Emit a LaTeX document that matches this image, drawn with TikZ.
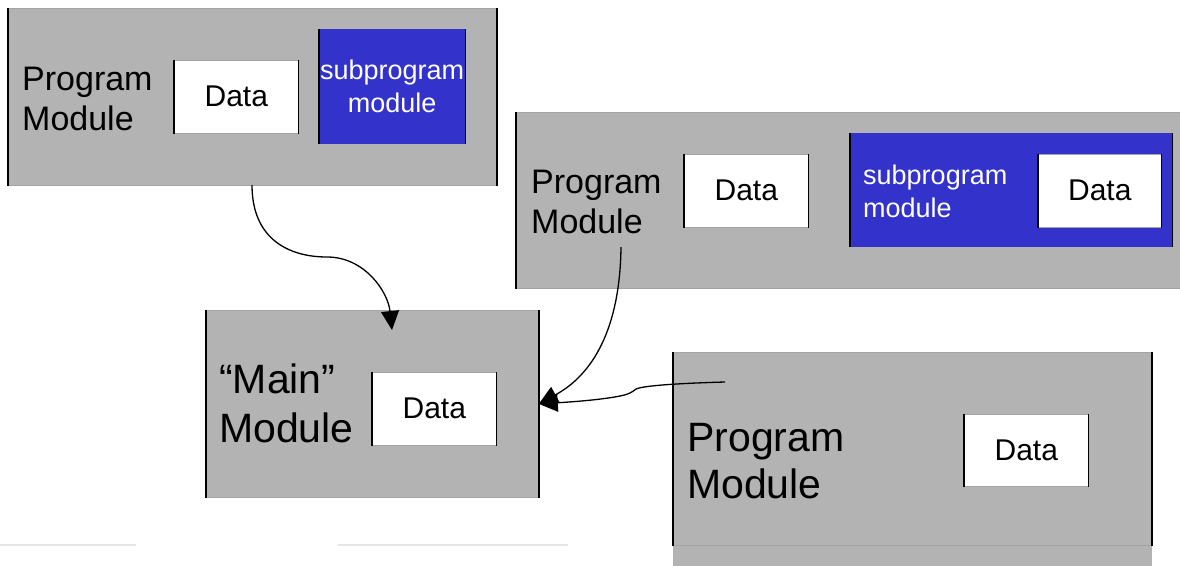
\documentclass[tikz,border=0pt]{standalone}
\usepackage{fontspec}
\setmainfont{Liberation Sans}
\usetikzlibrary{arrows.meta}

\definecolor{panelgray}{HTML}{B3B3B3}
\definecolor{rimgray}{HTML}{A4A4A4}
\definecolor{subblue}{HTML}{3333CC}
\definecolor{faint}{HTML}{E6E6E6}

\begin{document}
\begin{tikzpicture}[x=1pt,y=-1pt,
  panel/.style={fill=panelgray,draw=rimgray,line width=0.8pt,inner sep=0pt,
    anchor=north west,minimum width=#1},
  panel/.default=10pt,
  databox/.style={fill=white,draw=rimgray,line width=0.6pt,inner sep=0pt,
    anchor=north west,font=\fontsize{30}{36}\selectfont},
  subbox/.style={fill=subblue,draw=none,inner sep=0pt,anchor=north west},
  side/.style={line width=1.6pt,black},
  bigtext/.style={anchor=base west,align=left,inner sep=0pt},
  subtext/.style={text=white,inner sep=0pt,font=\fontsize{27}{33}\selectfont},
  link/.style={line width=1.3pt,-{Triangle[length=19pt,width=18pt]}},
]
\useasboundingbox (0,0) rectangle (1180,565);

% faint rules along the lower edge
\draw[faint,line width=1.5pt] (0,545) -- (136,545) (338,545) -- (568,545);

% ---- upper-left program module
\node[panel=488pt,minimum height=177pt] (p1) at (8,8) {};
\node[databox,minimum width=124pt,minimum height=73pt] (d1) at (174,60) {Data};
\node[subbox,minimum width=146pt,minimum height=115pt] (s1) at (319,29) {};
\node[subtext,align=center] (s1t) at (s1.center) {subprogram\\module};
% (base anchor of a multi-line node sits on its last line)
\node[bigtext,font=\fontsize{34}{40}\selectfont] (p1t) at (22,130) {Program\\Module};

% ---- right program module with nested subprogram
\node[panel=666pt,minimum height=176pt] (p2) at (516,112) {};
\node[databox,minimum width=124pt,minimum height=73pt] (d2) at (684,154) {Data};
\node[subbox,minimum width=322pt,minimum height=114pt] (s2) at (850,133) {};
\node[databox,minimum width=123pt,minimum height=73pt] (d3) at (1038,154) {Data};
\node[subtext,anchor=base west,align=left] (s2t) at (863,217) {subprogram\\module};
\node[bigtext,font=\fontsize{34}{40}\selectfont] (p2t) at (531,233) {Program\\Module};

% ---- main module
\node[panel=332pt,minimum height=187pt] (m) at (206,310) {};
\node[databox,minimum width=124pt,minimum height=73pt] (d4) at (372,372) {Data};
\node[bigtext,font=\fontsize{41}{49}\selectfont] (mt) at (219,442) {“Main”\\Module};

% ---- lower-right program module
\fill[panelgray] (673,545) rectangle (1152,566);
\node[panel=478pt,minimum height=193pt] (p4) at (673,352) {};
\node[databox,minimum width=124pt,minimum height=72pt] (d5) at (964,414) {Data};
\node[bigtext,font=\fontsize{41}{47}\selectfont] (p4t) at (687,498) {Program\\Module};

% dark vertical sides of every box
\foreach \n in {p1,d1,s1,p2,d2,s2,d3,m,d4,p4,d5}
  \draw[side] (\n.north west) -- (\n.south west)
              (\n.north east) -- (\n.south east);

% connectors
\coordinate (c1) at (252,185);
\coordinate (c1e) at (392,330);
\coordinate (c2) at (621,247);
\coordinate (c3) at (725,382);
\draw[link] (c1) .. controls (252,240) and (290,257) .. (327,257)
                 .. controls (365,257) and (388,292) .. (c1e);
\draw[link] (c2) .. controls (620,330) and (592,375) .. (m.east);
\draw[link] (c3) .. controls (690,383) and (645,385) .. (636,389)
                 .. controls (632,392) and (630,394) .. (620,396)
                 .. controls (600,400) and (570,402) .. (m.east);
\end{tikzpicture}
\end{document}
